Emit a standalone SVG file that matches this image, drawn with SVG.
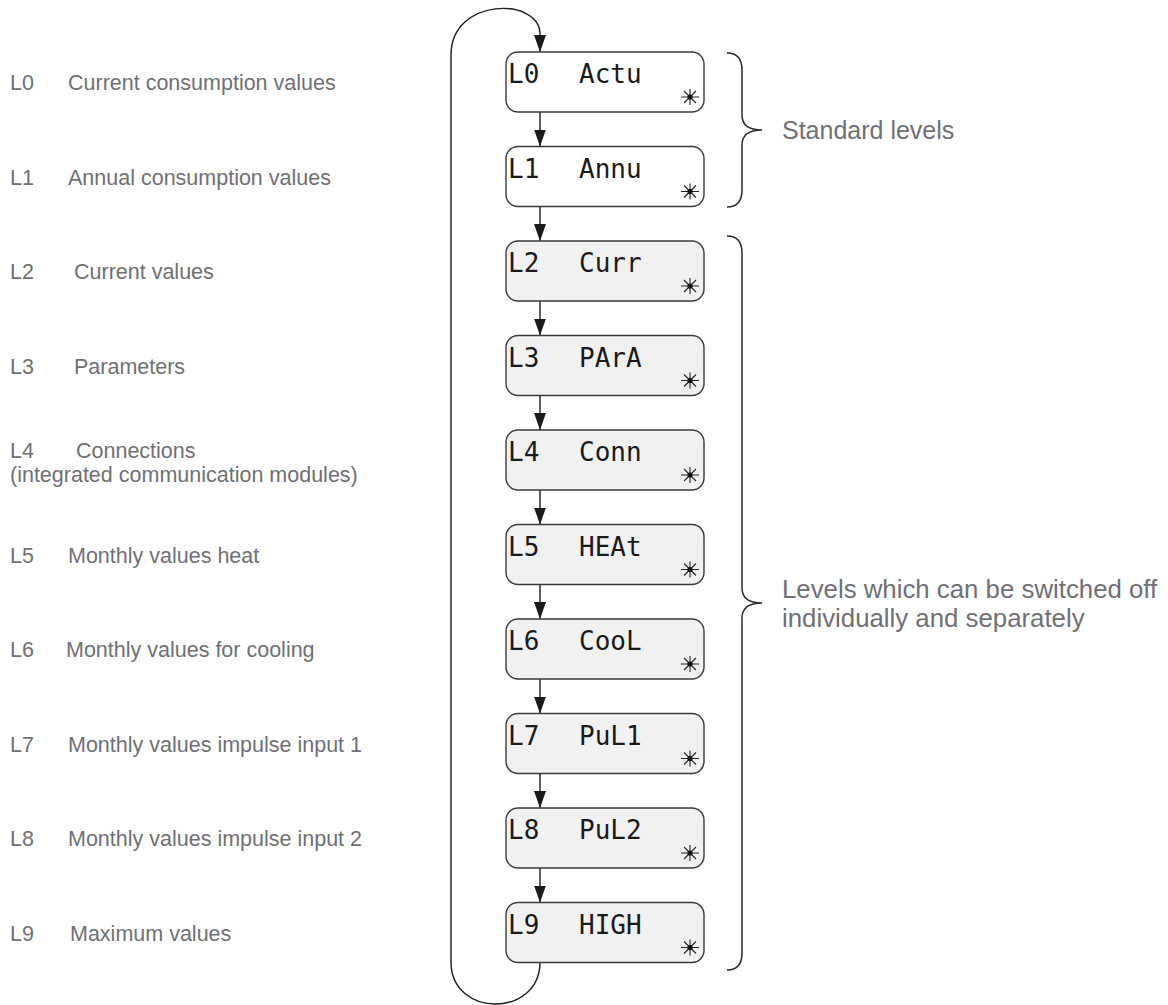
<svg xmlns="http://www.w3.org/2000/svg" xmlns:xlink="http://www.w3.org/1999/xlink" width="1168" height="1005" viewBox="0 0 1168 1005">
<style>
  .bg { fill: #ffffff; }
  .box { stroke: #3a3a3a; stroke-width: 1.4; }
  .std { fill: #ffffff; }
  .opt { fill: #f1f1f1; }
  .lcd { font-family: "DejaVu Sans Mono", "Liberation Mono", monospace; font-size: 26px; fill: #1a1a1a; }
  .lbl { font-family: "Liberation Sans", Arial, sans-serif; font-size: 21.5px; fill: #6f7076; }
  .note { font-family: "Liberation Sans", Arial, sans-serif; font-size: 25px; fill: #6f7076; }
  .note2 { font-family: "Liberation Sans", Arial, sans-serif; font-size: 25.8px; fill: #6f7076; }
  .conn { fill: none; stroke: #1a1a1a; stroke-width: 1.4; }
  .brace { fill: none; stroke: #2a2a2a; stroke-width: 1.5; }
  .ray { stroke: #222; stroke-width: 1.1; fill: none; }
</style>
<defs>
  <marker id="ah" viewBox="0 0 17 12" markerWidth="17" markerHeight="12" refX="17" refY="6" orient="auto" markerUnits="userSpaceOnUse">
    <path d="M0,0 L17,6 L0,12 Z" fill="#1a1a1a"/>
  </marker>
  <g id="star">
    <path class="ray" d="M-9,0 H9 M0,-8 V8 M-6,-6 L6,6 M-6,6 L6,-6"/>
    <circle r="2.6" fill="#111"/>
  </g>
</defs>
<rect class="bg" x="0" y="0" width="1168" height="1005"/>

<g id="connectors">
  <path class="conn" d="M540,962 C540,1018 451,1018 451,962 L451,55 C451,-3 540,-3 540,34 L540,52" marker-end="url(#ah)"/>
  <path class="conn" d="M540,112 V146.5" marker-end="url(#ah)"/>
  <path class="conn" d="M540,206.5 V241" marker-end="url(#ah)"/>
  <path class="conn" d="M540,301 V335.5" marker-end="url(#ah)"/>
  <path class="conn" d="M540,395.5 V430" marker-end="url(#ah)"/>
  <path class="conn" d="M540,490 V524.5" marker-end="url(#ah)"/>
  <path class="conn" d="M540,584.5 V619" marker-end="url(#ah)"/>
  <path class="conn" d="M540,679 V713.5" marker-end="url(#ah)"/>
  <path class="conn" d="M540,773.5 V808" marker-end="url(#ah)"/>
  <path class="conn" d="M540,868 V902.5" marker-end="url(#ah)"/>
</g>

<g id="node-L0">
  <rect class="box std" x="506" y="52" width="198" height="60" rx="12"/>
  <text class="lcd" x="508" y="83">L0</text><text class="lcd" x="579" y="83">Actu</text>
  <use href="#star" x="690" y="97"/>
</g>
<g id="node-L1">
  <rect class="box std" x="506" y="146.5" width="198" height="60" rx="12"/>
  <text class="lcd" x="508" y="177.5">L1</text><text class="lcd" x="579" y="177.5">Annu</text>
  <use href="#star" x="690" y="191.5"/>
</g>
<g id="node-L2">
  <rect class="box opt" x="506" y="241" width="198" height="60" rx="12"/>
  <text class="lcd" x="508" y="272">L2</text><text class="lcd" x="579" y="272">Curr</text>
  <use href="#star" x="690" y="286"/>
</g>
<g id="node-L3">
  <rect class="box opt" x="506" y="335.5" width="198" height="60" rx="12"/>
  <text class="lcd" x="508" y="366.5">L3</text><text class="lcd" x="579" y="366.5">PArA</text>
  <use href="#star" x="690" y="380.5"/>
</g>
<g id="node-L4">
  <rect class="box opt" x="506" y="430" width="198" height="60" rx="12"/>
  <text class="lcd" x="508" y="461">L4</text><text class="lcd" x="579" y="461">Conn</text>
  <use href="#star" x="690" y="475"/>
</g>
<g id="node-L5">
  <rect class="box opt" x="506" y="524.5" width="198" height="60" rx="12"/>
  <text class="lcd" x="508" y="555.5">L5</text><text class="lcd" x="579" y="555.5">HEAt</text>
  <use href="#star" x="690" y="569.5"/>
</g>
<g id="node-L6">
  <rect class="box opt" x="506" y="619" width="198" height="60" rx="12"/>
  <text class="lcd" x="508" y="650">L6</text><text class="lcd" x="579" y="650">CooL</text>
  <use href="#star" x="690" y="664"/>
</g>
<g id="node-L7">
  <rect class="box opt" x="506" y="713.5" width="198" height="60" rx="12"/>
  <text class="lcd" x="508" y="744.5">L7</text><text class="lcd" x="579" y="744.5">PuL1</text>
  <use href="#star" x="690" y="758.5"/>
</g>
<g id="node-L8">
  <rect class="box opt" x="506" y="808" width="198" height="60" rx="12"/>
  <text class="lcd" x="508" y="839">L8</text><text class="lcd" x="579" y="839">PuL2</text>
  <use href="#star" x="690" y="853"/>
</g>
<g id="node-L9">
  <rect class="box opt" x="506" y="902.5" width="198" height="60" rx="12"/>
  <text class="lcd" x="508" y="933.5">L9</text><text class="lcd" x="579" y="933.5">HIGH</text>
  <use href="#star" x="690" y="947.5"/>
</g>

<g id="labels">
  <text class="lbl" x="10" y="90">L0</text><text class="lbl" x="68" y="90">Current consumption values</text>
  <text class="lbl" x="10" y="184.5">L1</text><text class="lbl" x="68" y="184.5">Annual consumption values</text>
  <text class="lbl" x="10" y="279">L2</text><text class="lbl" x="74" y="279">Current values</text>
  <text class="lbl" x="10" y="373.5">L3</text><text class="lbl" x="74" y="373.5">Parameters</text>
  <text class="lbl" x="10" y="458">L4</text><text class="lbl" x="76" y="458">Connections</text>
  <text class="lbl" x="10" y="482">(integrated communication modules)</text>
  <text class="lbl" x="10" y="562.5">L5</text><text class="lbl" x="68" y="562.5">Monthly values heat</text>
  <text class="lbl" x="10" y="657">L6</text><text class="lbl" x="66" y="657">Monthly values for cooling</text>
  <text class="lbl" x="10" y="751.5">L7</text><text class="lbl" x="68" y="751.5">Monthly values impulse input 1</text>
  <text class="lbl" x="10" y="846">L8</text><text class="lbl" x="68" y="846">Monthly values impulse input 2</text>
  <text class="lbl" x="10" y="940.5">L9</text><text class="lbl" x="70" y="940.5">Maximum values</text>
</g>

<g id="group-standard">
  <path class="brace" d="M727,53 Q742,53 742,70 L742,115 Q742,130 762,130 Q742,130 742,145 L742,190 Q742,207 727,207"/>
  <text class="note" x="782" y="139">Standard levels</text>
</g>
<g id="group-optional">
  <path class="brace" d="M727,236 Q742,236 742,253 L742,588 Q742,603 762,603 Q742,603 742,618 L742,953 Q742,970 727,970"/>
  <text class="note2" x="782" y="598">Levels which can be switched off</text>
  <text class="note2" x="782" y="627">individually and separately</text>
</g>
</svg>
